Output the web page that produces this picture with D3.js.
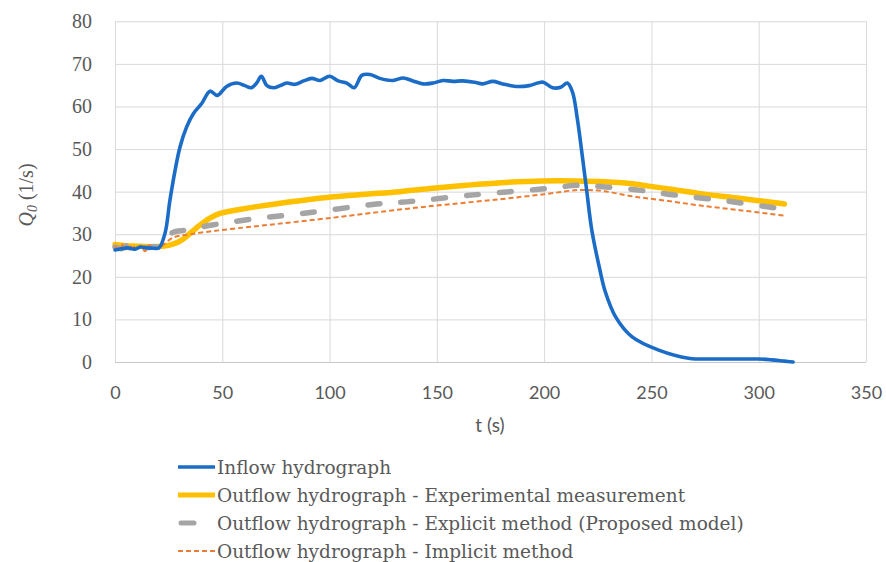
<!DOCTYPE html>
<html>
<head>
<meta charset="utf-8">
<script src="https://cdn.jsdelivr.net/npm/d3@7/dist/d3.min.js"></script>
<style>
  html, body { margin: 0; padding: 0; background: #fff; }
  svg { display: block; }
</style>
</head>
<body>
<svg id="chart" width="886" height="562"></svg>
<script>
// Time axis ticks and discharge ticks
const xTicks = [0, 50, 100, 150, 200, 250, 300, 350];
const yTicks = [0, 10, 20, 30, 40, 50, 60, 70, 80];

// Inflow hydrograph (t in s, Q in l/s)
const inflowT = [0, 3, 6, 9, 12, 15, 18, 20.5, 23.3, 25.6, 28, 30.3, 33.4, 36.5, 40.4, 44.3, 47.7, 52, 56.7, 60.5,
  63.5, 66, 68.2, 70.8, 73.9, 77, 80, 84, 87.9, 91.7, 95.6, 100, 104, 108, 111.5, 115, 118.8, 123.4, 129.6,
  134.3, 138.9, 143.5, 148.2, 152.8, 157.5, 162, 167.5, 171.4, 176, 180.7, 186.9, 193, 197, 199.6, 203.9,
  207.7, 210.8, 213.2, 215.5, 217.5, 219.8, 222.2, 226, 228.5, 233.3, 241, 253.4, 267.3, 280, 290, 300, 306, 312, 316];
const inflowQ = [26.3, 26.6, 26.8, 26.5, 27, 26.8, 26.7, 26.8, 30.2, 38, 45, 50.5, 55.2, 58.3, 60.7, 63.6, 62.6, 64.7, 65.5, 64.9,
  64.4, 65.5, 67.1, 64.9, 64.4, 64.9, 65.5, 65.2, 66, 66.6, 66.1, 67.1, 66, 65.5, 64.4, 67.3, 67.5, 66.6, 66.1,
  66.7, 66, 65.3, 65.5, 66.1, 65.9, 66, 65.7, 65.3, 65.9, 65.3, 64.7, 64.9, 65.5, 65.7, 64.4,
  64.5, 65.5, 63.4, 57, 49.5, 40.4, 31, 21.6, 16.5, 10.6, 5.9, 2.8, 0.9, 0.7, 0.7, 0.7, 0.5, 0.2, 0];

// Outflow hydrograph - experimental measurement
const expT = [0, 5, 10, 15, 20, 25, 30, 34.5, 38, 41.5, 45, 49, 56.7, 67.6, 85, 101.8, 117, 132.7, 148, 163.7,
  180, 199.2, 215, 228.6, 240, 248.7, 260, 271.9, 290, 310.6, 312];
const expQ = [27.6, 27.3, 27.2, 27.1, 27.1, 27.4, 28.3, 30, 31.5, 32.9, 34, 34.9, 35.7, 36.6, 37.8, 38.8, 39.4, 40, 40.8, 41.5,
  42.1, 42.5, 42.5, 42.3, 41.9, 41.3, 40.5, 39.6, 38.5, 37.2, 37.1];

// Outflow hydrograph - explicit method (proposed model)
const explT = [0, 3, 6, 9, 12, 15, 18, 21, 24, 26.8, 33.7, 44.5, 63.1, 91, 121.9, 135.8, 168.3, 200.8, 216.2, 228.6,
  245, 261, 285, 307.5, 312];
const explQ = [27, 26.6, 27.4, 26.8, 27.2, 26.8, 27.1, 27, 28.5, 30.4, 31, 32.1, 33.5, 35.1, 37.1, 37.6, 39.3, 40.7, 41.5, 41.1,
  40.3, 39.2, 37.8, 36.2, 35.9];

// Outflow hydrograph - implicit method
const implT = [0, 2, 4, 6, 8, 10, 12, 14, 16, 18, 21, 27, 35, 45, 55, 68, 101.8, 132.7, 155, 179.1, 200, 217,
  228, 241, 255, 271.9, 292, 312.9];
const implQ = [27.2, 26.3, 27.8, 26, 27.5, 26.2, 27.3, 26, 27.4, 26.8, 27, 29.2, 30, 30.7, 31.3, 32, 33.9, 35.8, 37, 38.2,
  39.4, 40.4, 40.1, 38.9, 38, 36.8, 35.6, 34.3];

const legendLabels = [
  "Inflow hydrograph",
  "Outflow hydrograph - Experimental measurement",
  "Outflow hydrograph - Explicit method (Proposed model)",
  "Outflow hydrograph - Implicit method"
];

const zip = (ts, qs) => ts.map((t, i) => [t, qs[i]]);

const series = [
  { data: zip(inflowT, inflowQ), color: "#1a6cc6", width: 3.6, dash: null, cap: "round" },
  { data: zip(expT, expQ), color: "#ffc000", width: 5.5, dash: null, cap: "round" },
  { data: zip(explT, explQ), color: "#a5a5a5", width: 5.5, dash: "12 21", cap: "round" },
  { data: zip(implT, implQ), color: "#ed7d31", width: 2, dash: "5 3", cap: "butt" }
];
const drawOrder = [1, 2, 3, 0];

const serif = "'DejaVu Serif', 'Liberation Serif', serif";
const timesLike = "'Liberation Serif', serif";
const sans = "Lato, Roboto, sans-serif";
const textColor = "#595959";

const svg = d3.select("#chart");
const plotLeft = 115, plotRight = 866, plotTop = 21.3, plotBottom = 362;

const x = d3.scaleLinear().domain([0, 350]).range([plotLeft, plotRight]);
const y = d3.scaleLinear().domain([0, 80]).range([plotBottom, plotTop]);

// Grid
const grid = svg.append("g");
grid.append("g")
  .attr("transform", `translate(0,${plotBottom})`)
  .call(d3.axisBottom(x).tickValues(xTicks).tickSize(-(plotBottom - plotTop)).tickFormat(""))
  .call(g => g.select(".domain").remove())
  .call(g => g.selectAll("line").attr("stroke", "#d9d9d9").attr("stroke-width", 1));
grid.append("g")
  .attr("transform", `translate(${plotLeft},0)`)
  .call(d3.axisLeft(y).tickValues(yTicks).tickSize(-(plotRight - plotLeft)).tickFormat(""))
  .call(g => g.select(".domain").remove())
  .call(g => g.selectAll("line").attr("stroke", d => d === 0 ? "#c8c8c8" : "#d9d9d9").attr("stroke-width", 1));

// Tick labels
svg.append("g")
  .attr("transform", `translate(0,${plotBottom})`)
  .call(d3.axisBottom(x).tickValues(xTicks).tickSize(0).tickPadding(24))
  .call(g => g.select(".domain").remove())
  .call(g => g.selectAll("text").attr("font-size", 18).attr("fill", textColor).attr("font-family", sans));
svg.append("g")
  .attr("transform", `translate(${plotLeft},0)`)
  .call(d3.axisLeft(y).tickValues(yTicks).tickSize(0).tickPadding(23))
  .call(g => g.select(".domain").remove())
  .call(g => g.selectAll("text").attr("font-size", 20).attr("fill", textColor).attr("font-family", timesLike));

// Axis titles
svg.append("text")
  .attr("x", 490).attr("y", 432)
  .attr("text-anchor", "middle").attr("font-size", 19).attr("fill", textColor)
  .attr("font-family", sans)
  .text("t (s)");
const yTitle = svg.append("text")
  .attr("transform", "translate(33,195) rotate(-90)")
  .attr("text-anchor", "middle").attr("font-size", 20).attr("fill", textColor)
  .attr("font-family", timesLike);
yTitle.append("tspan").attr("font-style", "italic").text("Q");
yTitle.append("tspan").attr("font-style", "italic").attr("font-size", 14).attr("dy", 4).text("0");
yTitle.append("tspan").attr("dy", -4).text(" (1/s)");

// Series
const line = d3.line().x(d => x(d[0])).y(d => y(d[1])).curve(d3.curveCatmullRom.alpha(0.5));
const plot = svg.append("g");
drawOrder.forEach(i => {
  const s = series[i];
  plot.append("path")
    .datum(s.data)
    .attr("d", line)
    .attr("fill", "none")
    .attr("stroke", s.color)
    .attr("stroke-width", s.width)
    .attr("stroke-linecap", s.cap)
    .attr("stroke-linejoin", "round")
    .attr("stroke-dasharray", s.dash);
});

// Legend
const legendRows = [467, 495, 523, 551];
const legend = svg.append("g");
series.forEach((s, i) => {
  const g = legend.append("g").attr("transform", `translate(0,${legendRows[i]})`);
  const isGray = i === 2;
  g.append("line")
    .attr("x1", isGray ? 181 : 178).attr("x2", isGray ? 194 : 215)
    .attr("y1", 0).attr("y2", 0)
    .attr("stroke", s.color)
    .attr("stroke-width", i === 3 ? 2 : (i === 0 ? 3.6 : 5))
    .attr("stroke-linecap", isGray ? "round" : "butt")
    .attr("stroke-dasharray", i === 3 ? "5 3" : null);
  g.append("text")
    .attr("x", 217).attr("y", 0).attr("dy", "0.36em")
    .attr("font-size", 18.5).attr("fill", textColor)
    .attr("font-family", serif)
    .text(legendLabels[i]);
});
</script>
</body>
</html>
